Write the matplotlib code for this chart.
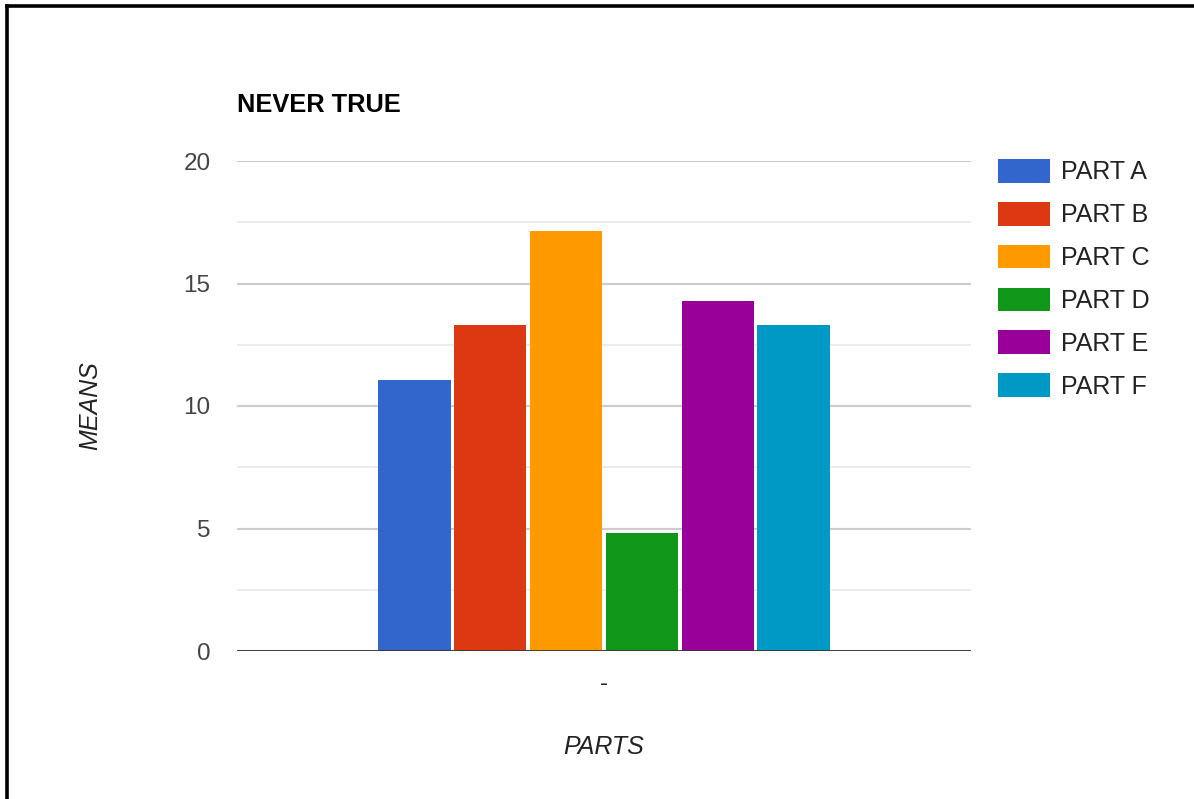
import matplotlib
matplotlib.use("Agg")
import matplotlib.pyplot as plt
from matplotlib.lines import Line2D
from matplotlib.ticker import MultipleLocator

# values
parts = ["PART A", "PART B", "PART C", "PART D", "PART E", "PART F"]
means = [11.05, 13.3, 17.15, 4.8, 14.3, 13.3]
colors = ["#3366cc", "#dc3912", "#ff9900", "#109618", "#990099", "#0099c6"]
y_ticks = [0, 5, 10, 15, 20]

plt.rcParams["font.family"] = ["Liberation Sans", "DejaVu Sans"]

W, H = 1194, 799
fig = plt.figure(figsize=(W / 100, H / 100), dpi=100)
fig.patch.set_facecolor("white")

# axes box measured in pixels: left 237, right 971, top 161, bottom 651
ax = fig.add_axes([237 / W, (H - 651) / H, (971 - 237) / W, (651 - 161) / H])

xs = list(range(len(parts)))
for x, v, c, name in zip(xs, means, colors, parts):
    ax.bar(x, v, width=0.96, color=c, label=name, zorder=3)

ax.set_ylim(0, 20)
ax.set_xlim(2.5 - 4.83, 2.5 + 4.83)
ax.set_yticks(y_ticks)
ax.yaxis.set_minor_locator(MultipleLocator(2.5))
ax.grid(axis="y", which="major", color="#cccccc", linewidth=1.5, zorder=0)
ax.grid(axis="y", which="minor", color="#ebebeb", linewidth=1.3, zorder=0)
ax.axhline(0, color="#333333", linewidth=2, zorder=4)

for s in ax.spines.values():
    s.set_visible(False)

ax.tick_params(axis="y", which="both", length=0, pad=19, labelsize=17.5,
               labelcolor="#444444")
ax.set_xticks([2.5])
ax.set_xticklabels(["-"])
ax.tick_params(axis="x", length=0, pad=16, labelsize=17.5, labelcolor="#222222")

ax.set_xlabel("PARTS", fontsize=18, style="italic", color="#222222")
ax.xaxis.set_label_coords(0.5, -0.172)
ax.set_ylabel("MEANS", fontsize=18, style="italic", color="#222222")
ax.yaxis.set_label_coords(-0.183, 0.5)

ax.set_title("NEVER TRUE", loc="left", y=1.1, pad=0, fontsize=18.3,
             fontweight="bold", color="#000000")

ax.legend(loc="upper left", bbox_to_anchor=(998 / W, 1 - 159 / H),
          bbox_transform=fig.transFigure, frameon=False, fontsize=18,
          handlelength=2.08, handleheight=1.08, handletextpad=0.45,
          labelspacing=0.70, borderpad=0, borderaxespad=0,
          labelcolor="#222222")

# black frame along the top and left edges of the screenshot
fig.add_artist(Line2D([6.5 / W, 6.5 / W], [0, 1 - 5.5 / H], color="black",
                      linewidth=2.6, transform=fig.transFigure))
fig.add_artist(Line2D([6.5 / W, 1], [1 - 5.5 / H, 1 - 5.5 / H], color="black",
                      linewidth=2.6, transform=fig.transFigure))

fig.savefig("out.png", dpi=100, facecolor="white")
